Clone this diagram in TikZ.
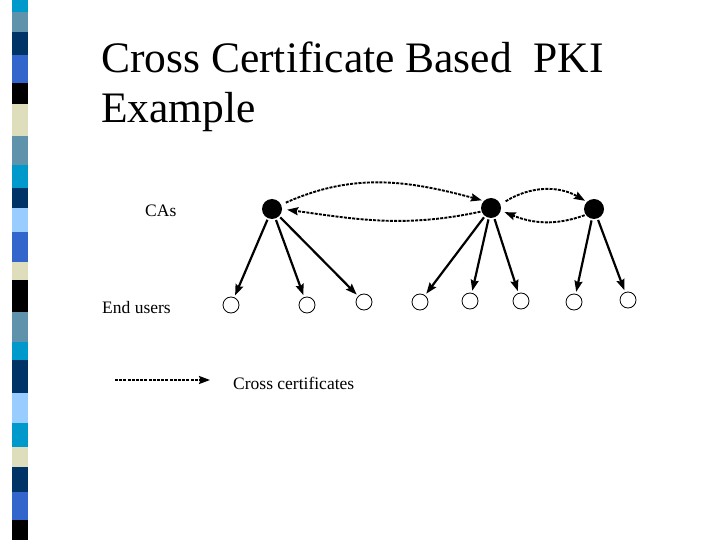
\documentclass[tikz,border=0pt]{standalone}
\usepackage{fontspec}
\setmainfont{Liberation Serif}
\usetikzlibrary{arrows.meta}
\definecolor{sCyan}{HTML}{0099CC}
\definecolor{sGrey}{HTML}{5F93AB}
\definecolor{sNavy}{HTML}{003366}
\definecolor{sRoyal}{HTML}{3366CC}
\definecolor{sBeige}{HTML}{DEDEBC}
\definecolor{sLight}{HTML}{99CCFF}
\tikzset{
  x=1bp, y=1bp,
  cabox/.style={circle, fill=black, minimum size=20bp, inner sep=0pt},
  userbox/.style={circle, draw=black, line width=0.8bp, minimum size=16bp, inner sep=0pt},
  treearrow/.style={line width=2.2bp, -{Stealth[length=11bp,width=8bp,inset=1.5bp]}, shorten >=2bp, shorten <=1.5bp},
  xarrow/.style={line width=1.9bp, dash pattern=on 3bp off 1.2bp, -{Stealth[length=11bp,width=8bp,inset=1.5bp]}},
  lbl/.style={font=\fontsize{17.5bp}{20bp}\selectfont, inner sep=0pt, anchor=base west},
  ttl/.style={font=\fontsize{43.5bp}{50bp}\selectfont, inner sep=0pt, anchor=base west},
}
\newcommand{\stripeblock}[3]{\fill[#1] (12,-#2) rectangle (28,-#3);}
\begin{document}
\begin{tikzpicture}
\useasboundingbox (0,0) rectangle (720,-540);
\fill[white] (0,0) rectangle (720,-540);
% decorative stripe
\stripeblock{sCyan}{0}{12}
\stripeblock{sGrey}{12}{32}
\stripeblock{sNavy}{32}{55}
\stripeblock{sRoyal}{55}{83}
\stripeblock{black}{83}{104}
\stripeblock{sBeige}{104}{136}
\stripeblock{sGrey}{136}{165}
\stripeblock{sCyan}{165}{188}
\stripeblock{sNavy}{188}{208}
\stripeblock{sLight}{208}{232}
\stripeblock{sRoyal}{232}{262}
\stripeblock{sBeige}{262}{280}
\stripeblock{black}{280}{312}
\stripeblock{sGrey}{312}{342}
\stripeblock{sCyan}{342}{360}
\stripeblock{sNavy}{360}{393}
\stripeblock{sLight}{393}{423}
\stripeblock{sCyan}{423}{447}
\stripeblock{sBeige}{447}{467}
\stripeblock{sNavy}{467}{492}
\stripeblock{sRoyal}{492}{520}
\stripeblock{black}{520}{540}

% title
\node[ttl] (t1) at (101,-73) {Cross Certificate Based\ \ PKI};
\node[ttl] (t2) at (101,-123) {Example};

% labels
\node[lbl] (lca) at (145,-217) {CAs};
\node[lbl] (leu) at (102,-313) {End users};
\node[lbl] (lcc) at (233,-389) {Cross certificates};

% CAs
\node[cabox] (ca1) at (272,-209) {};
\node[cabox] (ca2) at (491,-208) {};
\node[cabox] (ca3) at (594,-209) {};

% end users
\node[userbox] (u1) at (231,-305) {};
\node[userbox] (u2) at (307,-305) {};
\node[userbox] (u3) at (364,-302) {};
\node[userbox] (u4) at (420,-302) {};
\node[userbox] (u5) at (470,-301) {};
\node[userbox] (u6) at (521,-301) {};
\node[userbox] (u7) at (574,-302) {};
\node[userbox] (u8) at (628,-300) {};

% tree arrows
\draw[treearrow] (ca1) -- (u1);
\draw[treearrow] (ca1) -- (u2);
\draw[treearrow] (ca1) -- (u3);
\draw[treearrow] (ca2) -- (u4);
\draw[treearrow] (ca2) -- (u5);
\draw[treearrow] (ca2) -- (u6);
\draw[treearrow] (ca3) -- (u7);
\draw[treearrow] (ca3) -- (u8);

% cross certificates
\draw[xarrow, shorten <=5bp, shorten >=2bp] (ca1.25) to[out=24,in=165] (ca2.135);
\draw[xarrow, shorten <=1bp, shorten >=5bp] (ca2.200) to[out=192,in=-8] (ca1.0);
\draw[xarrow, shorten <=6bp, shorten >=2bp] (ca2.20) to[out=32,in=150] (ca3.135);
\draw[xarrow, shorten <=1bp, shorten >=4bp] (ca3.215) to[out=200,in=-22] (ca2.-15);

% legend
\coordinate (lgA) at (115,-380);
\coordinate (lgB) at (210,-380);
\draw[xarrow] (lgA) -- (lgB);
\end{tikzpicture}
\end{document}
